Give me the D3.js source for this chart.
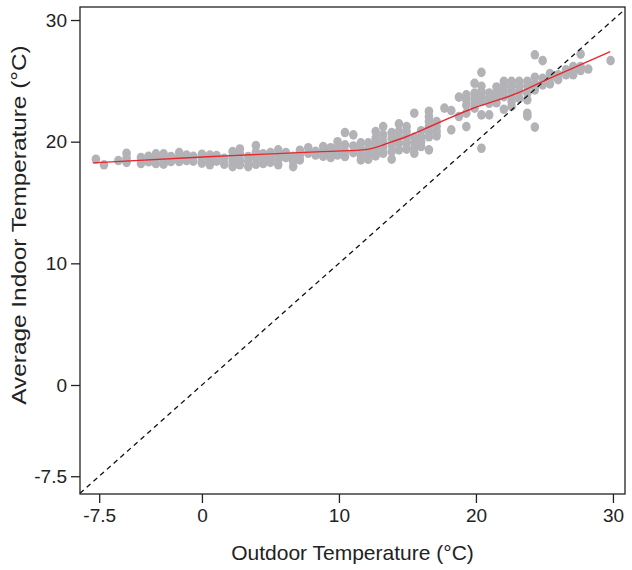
<!DOCTYPE html>
<html>
<head>
<meta charset="utf-8">
<script src="https://cdn.jsdelivr.net/npm/d3@7"></script>
<style>
  body { margin: 0; background: #fff; }
  svg { display: block; font-family: "Liberation Sans", Arial, Helvetica, sans-serif; }
</style>
</head>
<body>
<svg id="chart" width="632" height="570"></svg>
<script>
// outdoor temperature of each column of points, and the indoor values in that column
var outdoorTemps = [-7.74, -7.15, -6.1, -5.5, -4.45, -3.9, -3.36, -2.8, -2.26, -1.66, -1.12, -0.63,
  0.0, 0.58, 1.07, 1.63, 2.24, 2.77, 3.38, 3.94, 4.47, 5.0, 5.57, 6.13, 6.66, 7.15, 7.76, 8.3,
  8.85, 9.4, 9.9, 10.44, 11.05, 11.6, 12.14, 12.68, 13.23, 13.85, 14.38, 14.94, 15.5, 16.0,
  16.57, 17.13, 17.7, 18.2, 18.76, 19.3, 19.9, 20.4, 20.97, 21.5, 22.04, 22.6, 23.16, 23.75,
  24.3, 24.87, 25.4, 26.0, 26.57, 27.1, 27.64, 28.2, 29.83]
var indoorTemps = [
  [18.56], [18.1], [18.45], [19.05, 18.64, 18.3], [18.7, 18.2], [18.8, 18.35],
  [19.0, 18.64, 18.2], [19.0, 18.55, 18.15], [18.78, 18.37], [19.1, 18.72, 18.37],
  [18.9, 18.45], [18.8, 18.4],
  [18.97, 18.64, 18.23], [18.9, 18.5, 18.1], [18.86, 18.4], [18.64, 18.14],
  [19.19, 18.78, 18.37, 17.95], [19.4, 18.97, 18.5, 18.1], [18.78, 18.37, 17.95],
  [19.68, 19.13, 18.64, 18.14], [19.0, 18.6, 18.2], [19.1, 18.7, 18.3],
  [19.33, 18.9, 18.5, 18.1], [19.1, 18.7], [18.8, 18.4, 17.95], [19.3, 18.9, 18.5],
  [19.5, 19.05], [19.2, 18.9], [19.6, 19.2, 18.8], [19.5, 19.05, 18.7], [20.0, 19.45, 18.9],
  [20.75, 19.74, 19.19, 18.78], [20.56, 19.65, 19.1], [19.9, 19.4, 18.9, 18.5],
  [19.9, 19.4, 19.0, 18.55], [20.83, 20.29, 19.82, 19.33, 18.83],
  [21.24, 20.56, 20.0, 19.54, 19.05], [20.75, 20.29, 19.74, 19.19, 18.56],
  [21.46, 20.83, 20.37, 19.88, 19.33], [21.24, 20.83, 20.37, 19.88, 19.38],
  [22.34, 20.37, 19.93, 19.46, 19.05], [20.9, 20.4, 20.0, 19.6],
  [22.5, 22.05, 21.65, 21.24, 20.83, 20.4, 19.33], [21.65, 21.24, 20.83, 20.48],
  [22.76], [22.56, 20.97], [23.66, 22.07], [23.85, 23.43, 23.0, 22.34, 21.24],
  [24.8, 23.99, 23.57, 23.16, 22.75], [25.7, 24.56, 24.14, 23.7, 23.3, 22.2, 19.46],
  [24.0, 23.57, 23.16, 22.2], [24.5, 24.05, 23.63, 23.2], [24.96, 24.56, 24.14, 23.7, 22.66],
  [24.96, 24.56, 24.14, 23.7, 23.3, 22.9], [24.96, 24.56, 24.14, 23.57],
  [24.96, 24.56, 24.0, 23.44, 22.34, 22.1], [27.14, 25.3, 24.8, 24.26, 21.2],
  [26.66, 25.2, 24.67], [25.6, 25.2, 24.75], [25.5, 25.1], [25.9, 25.5],
  [26.17, 25.76, 25.5], [27.2, 26.17, 25.85], [25.97], [26.66]
]

// smoothed fit (red line)
var smoothX = [-7.96, 0.07, 10.07, 12.1, 13.2, 14.96, 16.4, 18.1, 19.8, 21.2, 23.2, 24.7, 27.6, 29.8]
var smoothY = [18.26, 18.75, 19.27, 19.27, 19.74, 20.39, 21.13, 21.96, 22.78, 23.27, 24.0, 24.9, 26.3, 27.4]

var tickValues = [-7.5, 0, 10, 20, 30]
var xTitle = "Outdoor Temperature (°C)"
var yTitle = "Average Indoor Temperature (°C)"

var svg = d3.select("#chart")
var plotLeft = 80, plotRight = 625, plotTop = 7, plotBottom = 494

var x = d3.scaleLinear().domain([-8.9, 30.88]).range([plotLeft, plotRight])
var y = d3.scaleLinear().domain([-8.96, 31.07]).range([plotBottom, plotTop])

var points = []
outdoorTemps.forEach(function(t, i) {
    indoorTemps[i].forEach(function(v) { points.push({x: t, y: v}) })
})

// the figure is a little taller than wide, so the dots are slightly oval
svg.append("g").selectAll("ellipse").data(points).enter()
    .append("ellipse")
    .attr("cx", function(d) { return x(d.x) })
    .attr("cy", function(d) { return y(d.y) })
    .attr("rx", 4.3)
    .attr("ry", 4.8)
    .attr("fill", "#b3b3b7")

// 1:1 line across the whole plot
var lo = Math.max(x.domain()[0], y.domain()[0]), hi = Math.min(x.domain()[1], y.domain()[1])
svg.append("line")
    .attr("x1", x(lo)).attr("y1", y(lo))
    .attr("x2", x(hi)).attr("y2", y(hi))
    .attr("stroke", "#111")
    .attr("stroke-width", 1.3)
    .attr("stroke-dasharray", "5,4")

svg.append("path")
    .datum(d3.zip(smoothX, smoothY))
    .attr("fill", "none")
    .attr("stroke", "#e8262d")
    .attr("stroke-width", 1.4)
    .attr("d", d3.line().x(function(d) { return x(d[0]) }).y(function(d) { return y(d[1]) }).curve(d3.curveBasis))

svg.append("rect")
    .attr("x", plotLeft).attr("y", plotTop)
    .attr("width", plotRight - plotLeft).attr("height", plotBottom - plotTop)
    .attr("fill", "none")
    .attr("stroke", "#222")
    .attr("stroke-width", 1.3)

var fmt = function(d) { return String(d) }
var xAxis = svg.append("g")
    .attr("transform", "translate(0," + plotBottom + ")")
    .call(d3.axisBottom(x).tickValues(tickValues).tickSize(9).tickPadding(6).tickFormat(fmt))
var yAxis = svg.append("g")
    .attr("transform", "translate(" + plotLeft + ",0)")
    .call(d3.axisLeft(y).tickValues(tickValues).tickSize(9).tickPadding(4).tickFormat(fmt))

;[xAxis, yAxis].forEach(function(g) {
    g.select(".domain").remove()
    g.selectAll("line").attr("stroke", "#222").attr("stroke-width", 1.3)
    g.selectAll("text").attr("font-size", 19).attr("fill", "#222")
        .attr("font-family", "'Liberation Sans', Arial, sans-serif")
})

svg.append("text")
    .attr("x", (plotLeft + plotRight) / 2).attr("y", 560)
    .attr("text-anchor", "middle")
    .attr("font-size", 21).attr("fill", "#222")
    .text(xTitle)

svg.append("text")
    .attr("transform", "translate(26,225) rotate(-90) scale(1.16,1)")
    .attr("text-anchor", "middle")
    .attr("font-size", 21).attr("fill", "#222")
    .text(yTitle)
</script>
</body>
</html>
